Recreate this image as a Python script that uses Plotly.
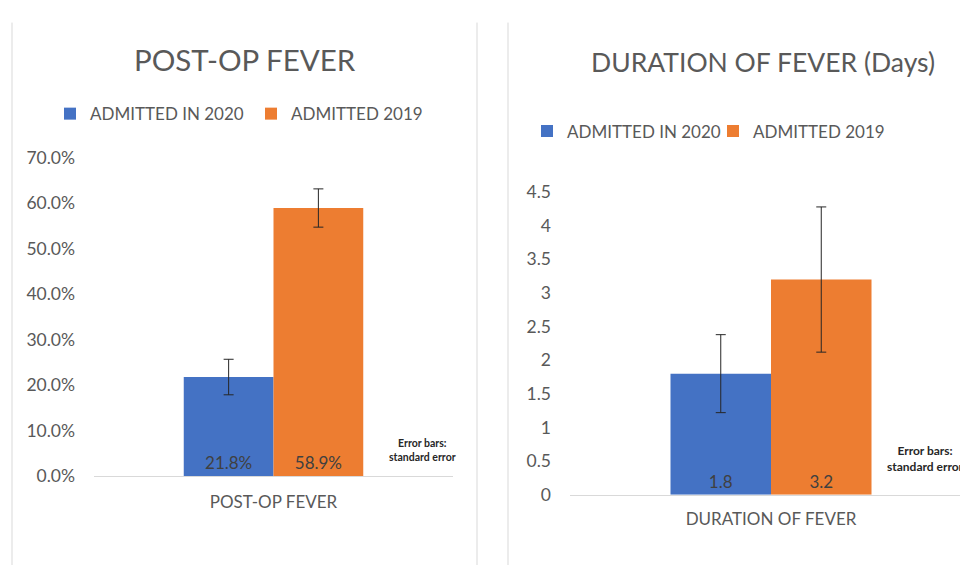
import plotly.graph_objects as go

# ---- data ----
series_names = ["ADMITTED IN 2020", "ADMITTED 2019"]
colors = ["#4472C4", "#ED7D31"]

left_category = ["POST-OP FEVER"]
left_values = [21.8, 58.9]          # percent
left_se = [3.9, 4.2]                # percent
left_ticks = [0, 10, 20, 30, 40, 50, 60, 70]

right_category = ["DURATION OF FEVER"]
right_values = [1.8, 3.2]           # days
right_se = [0.58, 1.08]
right_ticks = [0, 0.5, 1, 1.5, 2, 2.5, 3, 3.5, 4, 4.5]

W, H = 960, 575
FONT = "Lato"
GRAY = "#595959"

def px_x(x):
    return x / W

def px_y(y):
    return (H - y) / H

fig = go.Figure()

for i in range(2):
    fig.add_trace(go.Bar(
        x=left_category, y=[left_values[i]], name=series_names[i],
        marker=dict(color=colors[i], line=dict(width=0)),
        offsetgroup=str(i),
        error_y=dict(type="data", array=[left_se[i]], color="#262626", thickness=1, width=5),
        text=[f"{left_values[i]:.1f}%"], textposition="inside", insidetextanchor="start",
        textfont=dict(color="#404040", size=17, family=FONT),
        xaxis="x", yaxis="y", legend="legend", hoverinfo="skip",
    ))

for i in range(2):
    fig.add_trace(go.Bar(
        x=right_category, y=[right_values[i]], name=series_names[i],
        marker=dict(color=colors[i], line=dict(width=0)),
        offsetgroup=str(i),
        error_y=dict(type="data", array=[right_se[i]], color="#262626", thickness=1, width=5),
        text=[f"{right_values[i]:.1f}"], textposition="inside", insidetextanchor="start",
        textfont=dict(color="#404040", size=17, family=FONT),
        xaxis="x2", yaxis="y2", legend="legend2", hoverinfo="skip",
    ))

# right panel category centred at x=771 px, visible region 570..960 px
cat_w = 402.0
r_range = [-0.5, (W - 771) / cat_w]

axis_common = dict(showgrid=False, zeroline=False, fixedrange=True)

fig.update_layout(
    autosize=True,
    margin=dict(l=0, r=0, t=0, b=0),
    paper_bgcolor="white", plot_bgcolor="white",
    font=dict(family=FONT, color=GRAY, size=16),
    barmode="group", bargap=0.5, bargroupgap=0,
    showlegend=True,
    xaxis=dict(domain=[px_x(94), px_x(453)], anchor="y", showline=True, linecolor="#D9D9D9",
               linewidth=1, ticks="", tickfont=dict(size=17, color=GRAY),
               ticklabelstandoff=10, **axis_common),
    yaxis=dict(domain=[px_y(483), px_y(152)], anchor="x", range=[0, 70], tickvals=left_ticks,
               ticktext=[f"{v:.1f}%" for v in left_ticks], ticks="", showline=False,
               tickfont=dict(size=17.5, color=GRAY), ticklabelstandoff=18, **axis_common),
    xaxis2=dict(domain=[px_x(570), 1.0], anchor="y2", range=r_range, showline=True,
                linecolor="#D9D9D9", linewidth=1, ticks="", tickfont=dict(size=17, color=GRAY),
                ticklabelstandoff=9, **axis_common),
    yaxis2=dict(domain=[px_y(502), px_y(188)], anchor="x2", range=[0, 4.5], tickvals=right_ticks,
                ticks="", showline=False, tickfont=dict(size=17.5, color=GRAY),
                ticklabelstandoff=18, **axis_common),
    legend=dict(orientation="h", x=px_x(50), xanchor="left", y=px_y(107), yanchor="middle",
                font=dict(size=17, color=GRAY), bgcolor="rgba(0,0,0,0)", traceorder="normal",
                entrywidth=156),
    legend2=dict(orientation="h", x=px_x(527), xanchor="left", y=px_y(125), yanchor="middle",
                 font=dict(size=17, color=GRAY), bgcolor="rgba(0,0,0,0)", traceorder="normal",
                 entrywidth=141),
    annotations=[
        dict(text="POST-OP FEVER", x=px_x(245), y=px_y(50), xref="paper", yref="paper",
             showarrow=False, font=dict(size=29.5, color=GRAY), xanchor="center", yanchor="middle"),
        dict(text="DURATION OF FEVER (Days)", x=px_x(763), y=px_y(53), xref="paper", yref="paper",
             showarrow=False, font=dict(size=26.5, color=GRAY), xanchor="center", yanchor="middle"),
        dict(text="<b>Error bars:<br>standard error</b>", x=px_x(422), y=px_y(456), xref="paper",
             yref="paper", showarrow=False, font=dict(size=10.5, color="#262626"),
             xanchor="center", yanchor="middle", align="center"),
        dict(text="<b>Error bars:<br>standard error</b>", x=px_x(925), y=px_y(464), xref="paper",
             yref="paper", showarrow=False, font=dict(size=12, color="#262626"),
             xanchor="center", yanchor="middle", align="center"),
    ],
    shapes=[
        dict(type="line", xref="paper", yref="paper", x0=px_x(12), x1=px_x(12), y0=0, y1=px_y(12),
             line=dict(color="#D9D9D9", width=1)),
        dict(type="line", xref="paper", yref="paper", x0=px_x(477), x1=px_x(477), y0=0, y1=px_y(12),
             line=dict(color="#D9D9D9", width=1)),
        dict(type="line", xref="paper", yref="paper", x0=px_x(508), x1=px_x(508), y0=0, y1=px_y(12),
             line=dict(color="#D9D9D9", width=1)),
    ],
)

fig.write_html(
    "out.html",
    config={"displayModeBar": False, "responsive": True},
    default_width="100vw",
    default_height="100vh",
    post_script=(
        "document.documentElement.style.margin='0';"
        "document.body.style.margin='0';"
        "document.documentElement.style.overflow='hidden';"
        "Plotly.Plots.resize(document.getElementById('{plot_id}'));"
    ),
)
